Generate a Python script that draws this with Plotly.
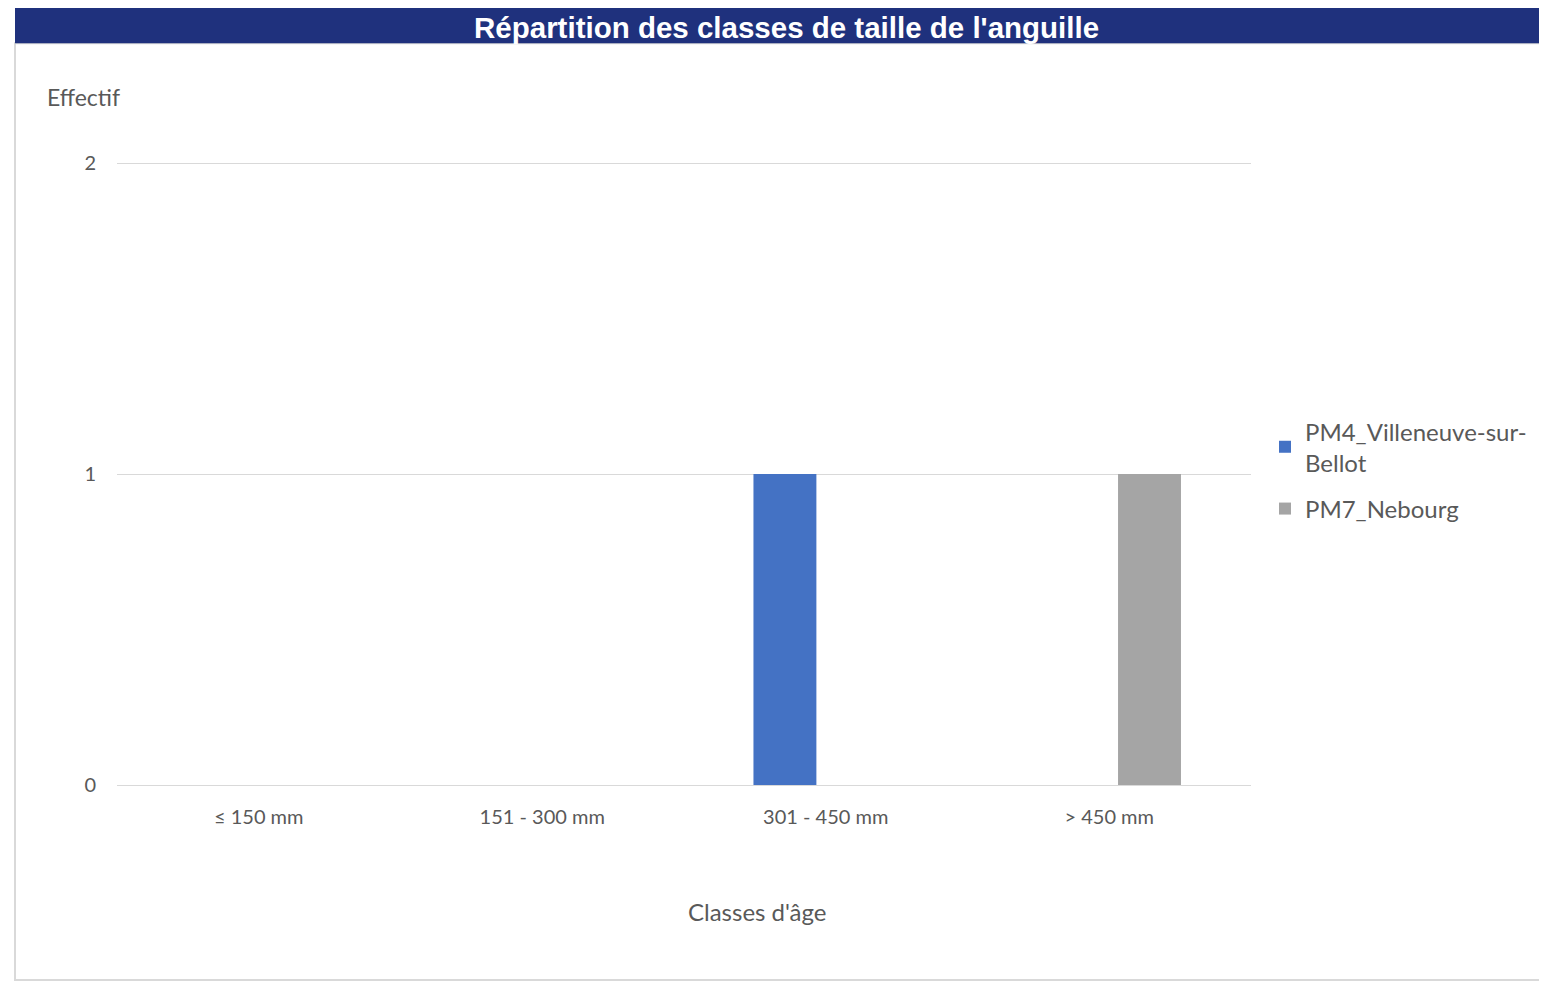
import plotly.graph_objects as go

categories = ["≤ 150 mm", "151 - 300 mm", "301 - 450 mm", "> 450 mm"]
pm4_values = [0, 0, 1, 0]
pm7_values = [0, 0, 0, 1]
series_names = ["PM4_Villeneuve-sur-<br>Bellot", "PM7_Nebourg"]
title_text = "Répartition des classes de taille de l'anguille"
y_title = "Effectif"
x_title = "Classes d'âge"

OFF = 8  # page body margin
W, H = 1547 + OFF, 981 + OFF
YMAX = 2.01
L, R = 117 - OFF, 1251 - OFF
B = 785 - OFF
T = B - (785 - 163) * YMAX / 2

def px(x):
    return (x - OFF - L) / (R - L)

def py(y):
    return (B - (y - OFF)) / (B - T)

FONT = "Lato"
TXT = "#595959"

fig = go.Figure()
fig.add_trace(go.Bar(x=categories, y=pm4_values, name=series_names[0],
                     legendgroup="a",
                     marker=dict(color="#4472C4", line=dict(width=0)),
                     width=0.222, offset=-0.255))
fig.add_trace(go.Bar(x=categories, y=pm7_values, name=series_names[1],
                     legendgroup="b",
                     marker=dict(color="#A5A5A5", line=dict(width=0)),
                     width=0.222, offset=0.031))

fig.update_layout(
    width=W, height=H,
    margin=dict(l=L, r=W - R, t=T, b=H - B, pad=0),
    paper_bgcolor="white", plot_bgcolor="white",
    font=dict(family=FONT, color=TXT, size=20),
    barmode="group",
    showlegend=True,
    legend=dict(x=px(1265), y=py(409), xanchor="left", yanchor="top",
                font=dict(size=24, color=TXT, family=FONT),
                itemsizing="constant", tracegroupgap=12, bgcolor="rgba(0,0,0,0)"),
    xaxis=dict(showgrid=False, showline=False, zeroline=False,
               ticks="", tickfont=dict(size=20, color=TXT), ticklabelstandoff=18),
    yaxis=dict(range=[0, YMAX], tickvals=[0, 1, 2], showgrid=True, gridcolor="#D9D9D9",
               gridwidth=1, zeroline=True, zerolinecolor="#D9D9D9", zerolinewidth=1,
               showline=False, ticks="", tickfont=dict(size=20, color=TXT),
               ticklabelstandoff=20),
    shapes=[
        dict(type="rect", xref="paper", yref="paper",
             x0=px(15), x1=px(1565), y0=py(980), y1=py(43),
             line=dict(color="#D9D9D9", width=2), fillcolor="rgba(0,0,0,0)", layer="below"),
        dict(type="rect", xref="paper", yref="paper",
             x0=px(15), x1=px(1575), y0=py(43), y1=py(7),
             line=dict(width=0), fillcolor="#1F317D", layer="above"),
    ],
    annotations=[
        dict(text=f"<b>{title_text}</b>", xref="paper", yref="paper",
             x=px(786), y=py(27), xanchor="center", yanchor="middle", showarrow=False,
             font=dict(family="Liberation Sans", size=29.5, color="white")),
        dict(text=y_title, xref="paper", yref="paper", x=px(45), y=py(97),
             xanchor="left", yanchor="middle", showarrow=False,
             font=dict(family=FONT, size=23, color=TXT)),
        dict(text=x_title, xref="paper", yref="paper", x=px(757), y=py(912),
             xanchor="center", yanchor="middle", showarrow=False,
             font=dict(family=FONT, size=24, color=TXT)),
    ],
)

fig.write_html("out.html")
